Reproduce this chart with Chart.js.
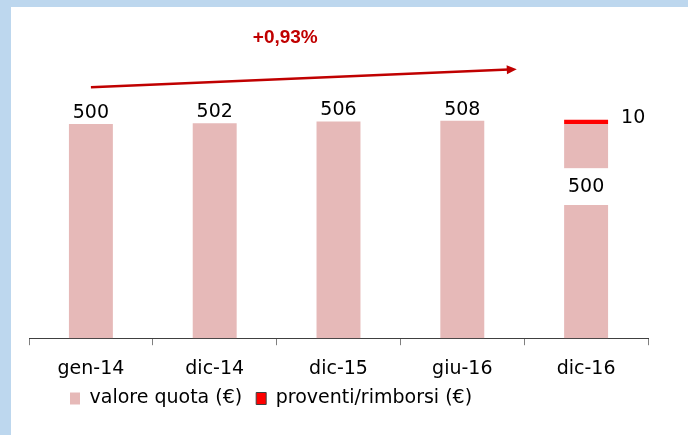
<!DOCTYPE html>
<html lang="it">
<head>
<meta charset="UTF-8">
<title>Valore quota</title>
<script src="https://cdn.jsdelivr.net/npm/chart.js"></script>
<style>
  html, body { margin: 0; padding: 0; background: #fff; }
  .frame { position: absolute; left: 0; top: 0; width: 688px; height: 435px; background: #bdd7ee; }
  .inner { position: absolute; left: 11px; top: 7px; right: 0; bottom: 0; background: #fff; }
</style>
</head>
<body>
<div class="frame"><div class="inner"><canvas id="chart"></canvas></div></div>
<script>
const categories = ["gen-14", "dic-14", "dic-15", "giu-16", "dic-16"];
const valoreQuota = [500, 502, 506, 508, 500];
const proventi = [null, null, null, null, 10];
const seriesNames = ["valore quota (€)", "proventi/rimborsi (€)"];
const breakRange = [311, 397];   // broken bar on dic-16 (axis values)
const trendLabel = "+0,93%";
// trend arrow, in category index / axis value units
const trendFrom = [0, 586];
const trendTo = [3.44, 628];
const trendText = [1.57, 701];

const FONT = '"DejaVu Sans", Verdana, sans-serif';
const BOLD_FONT = '"Liberation Sans", Arial, sans-serif';
const PINK = "#e6b9b8";
const RED = "#ff0000";
const DARK_RED = "#c00000";

const overlay = {
  id: "overlay",
  afterLayout(chart) {
    // legend sits further right and a bit higher than Chart.js puts it
    chart.legend.left += 27;
    chart.legend.top -= 17;
    chart.legend.bottom -= 17;
  },
  afterDatasetsDraw(chart) {
    const ctx = chart.ctx;
    const x = chart.scales.x, y = chart.scales.y;
    const pink = chart.getDatasetMeta(0), red = chart.getDatasetMeta(1);
    const last = categories.length - 1;

    // axis break on last bar
    const bar = pink.data[last];
    const yTop = y.getPixelForValue(breakRange[1]);
    const yBot = y.getPixelForValue(breakRange[0]);
    ctx.save();
    ctx.fillStyle = "#fff";
    ctx.fillRect(bar.x - bar.width / 2 - 2, yTop, bar.width + 4, yBot - yTop);

    // value labels
    ctx.font = "19px " + FONT;
    ctx.fillStyle = "#000";
    ctx.textBaseline = "middle";
    ctx.textAlign = "center";
    valoreQuota.forEach((v, i) => {
      const el = pink.data[i];
      const ty = i === last ? (yTop + yBot) / 2 : el.y - 11;
      ctx.fillText(String(v), el.x, ty);
    });
    ctx.textAlign = "left";
    proventi.forEach((v, i) => {
      if (v == null) return;
      const el = red.data[i];
      ctx.fillText(String(v), el.x + el.width / 2 + 13, el.y - 2);
    });

    // trend arrow
    const x1 = x.getPixelForValue(trendFrom[0]), y1 = y.getPixelForValue(trendFrom[1]);
    const x2 = x.getPixelForValue(trendTo[0]), y2 = y.getPixelForValue(trendTo[1]);
    const ang = Math.atan2(y2 - y1, x2 - x1);
    ctx.strokeStyle = DARK_RED;
    ctx.fillStyle = DARK_RED;
    ctx.lineWidth = 2.5;
    ctx.beginPath();
    ctx.moveTo(x1, y1);
    ctx.lineTo(x2 - 8 * Math.cos(ang), y2 - 8 * Math.sin(ang));
    ctx.stroke();
    ctx.beginPath();
    ctx.moveTo(x2, y2);
    ctx.lineTo(x2 - 10 * Math.cos(ang) + 4.5 * Math.sin(ang), y2 - 10 * Math.sin(ang) - 4.5 * Math.cos(ang));
    ctx.lineTo(x2 - 10 * Math.cos(ang) - 4.5 * Math.sin(ang), y2 - 10 * Math.sin(ang) + 4.5 * Math.cos(ang));
    ctx.closePath();
    ctx.fill();

    ctx.font = "bold 19px " + BOLD_FONT;
    ctx.textAlign = "center";
    ctx.fillText(trendLabel, x.getPixelForValue(trendText[0]), y.getPixelForValue(trendText[1]));
    ctx.restore();
  }
};

new Chart(document.getElementById("chart"), {
  type: "bar",
  data: {
    labels: categories,
    datasets: [
      { label: seriesNames[0], data: valoreQuota, backgroundColor: PINK, borderWidth: 0 },
      { label: seriesNames[1], data: proventi, backgroundColor: RED, borderWidth: 0 }
    ]
  },
  options: {
    responsive: true,
    maintainAspectRatio: false,
    animation: false,
    datasets: { bar: { barPercentage: 0.355, categoryPercentage: 1 } },
    layout: { padding: { left: 18, right: 40, top: 13, bottom: 0 } },
    scales: {
      x: {
        stacked: true,
        grid: { display: true, drawOnChartArea: false, tickLength: 7, color: "#7f7f7f", offset: true },
        border: { display: true, color: "#404040", width: 1 },
        ticks: { color: "#000", font: { family: FONT, size: 19 }, padding: 12 }
      },
      y: { stacked: true, display: false, min: 0, max: 743 }
    },
    plugins: {
      tooltip: { enabled: false },
      legend: {
        position: "bottom",
        align: "start",
        labels: {
          color: "#000",
          font: { family: FONT, size: 19 },
          boxWidth: 10,
          boxHeight: 12,
          padding: 14,
          generateLabels(chart) {
            const items = Chart.defaults.plugins.legend.labels.generateLabels(chart);
            items.forEach((it, i) => {
              it.lineWidth = i === 1 ? 1 : 0;
              it.strokeStyle = "#404040";
            });
            return items;
          }
        }
      }
    }
  },
  plugins: [overlay]
});
</script>
</body>
</html>
